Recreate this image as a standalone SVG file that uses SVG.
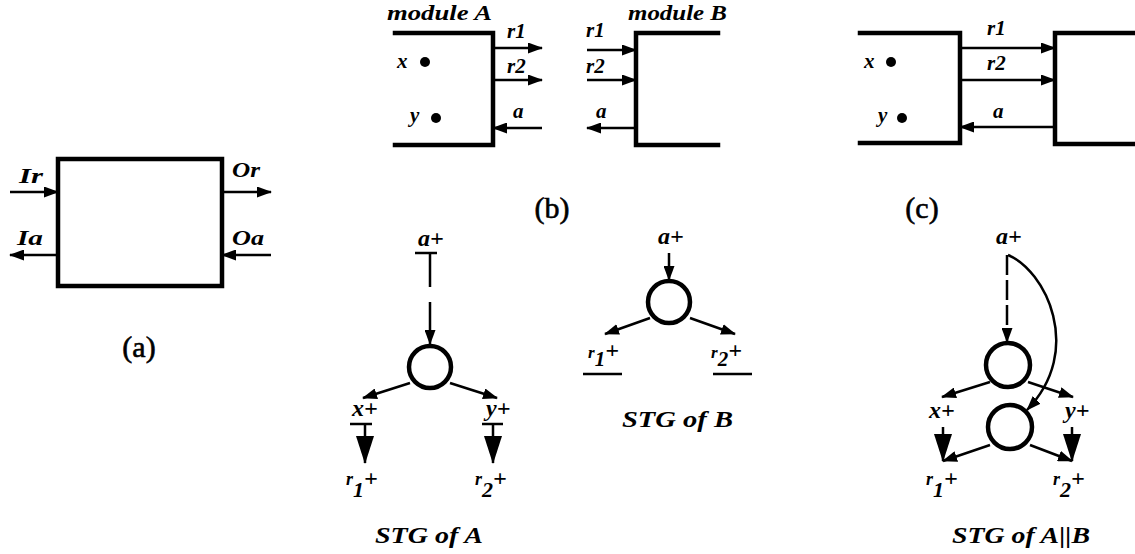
<svg xmlns="http://www.w3.org/2000/svg" width="1135" height="554" viewBox="0 0 1135 554">
<style>
.bx{fill:none;stroke:#000;stroke-width:4.5;stroke-linecap:square}
.ln{fill:none;stroke:#000;stroke-width:2.5}
.pl{fill:none;stroke:#000;stroke-width:4.5}
.t{font-family:"Liberation Serif",serif;font-weight:bold;font-style:italic;font-size:21px;fill:#000}
.ta{font-family:"Liberation Serif",serif;font-weight:bold;font-style:italic;font-size:24px;fill:#000}
.cap{font-family:"Liberation Serif",serif;font-weight:bold;font-style:italic;font-size:23px;fill:#000}
.lb{font-family:"Liberation Serif",serif;font-size:30px;fill:#000;stroke:#000;stroke-width:0.6;text-anchor:middle}
.dot{fill:#000}
</style>
<defs>
<marker id="ah" markerUnits="userSpaceOnUse" markerWidth="15" markerHeight="11" refX="14" refY="5.5" orient="auto"><path d="M0,0 L15,5.5 L0,11 z" fill="#000"/></marker>
<marker id="ahb" markerUnits="userSpaceOnUse" markerWidth="28" markerHeight="18" refX="27" refY="9" orient="auto"><path d="M0,0 L28,9 L0,18 z" fill="#000"/></marker>
</defs>

<g id="node-a">
<rect x="58" y="159" width="164" height="127" class="bx"/>
<text x="19" y="183" class="t" textLength="24" lengthAdjust="spacingAndGlyphs">Ir</text>
<text x="17" y="245" class="t" textLength="26" lengthAdjust="spacingAndGlyphs">Ia</text>
<text x="232" y="177" class="t" textLength="28" lengthAdjust="spacingAndGlyphs">Or</text>
<text x="232" y="245" class="t" textLength="32" lengthAdjust="spacingAndGlyphs">Oa</text>
<text x="139" y="357" class="lb">(a)</text>
</g>

<g id="node-moduleA">
<path d="M395,33 H493 V145 H395" class="bx"/>
<text x="387" y="20" class="t" textLength="105" lengthAdjust="spacingAndGlyphs">module A</text>
<text x="397" y="68" class="t">x</text>
<circle cx="425" cy="62" r="5" class="dot"/>
<text x="410" y="122" class="t">y</text>
<circle cx="436" cy="118" r="5" class="dot"/>
<text x="507" y="38" class="t">r1</text>
<text x="507" y="73" class="t">r2</text>
<text x="513" y="118" class="t">a</text>
</g>

<g id="node-moduleB">
<path d="M718,33 H636 V145 H718" class="bx"/>
<text x="628" y="20" class="t" textLength="99" lengthAdjust="spacingAndGlyphs">module B</text>
<text x="586" y="37" class="t">r1</text>
<text x="586" y="73" class="t">r2</text>
<text x="596" y="118" class="t">a</text>
<text x="552" y="218" class="lb">(b)</text>
</g>

<g id="node-c-left">
<path d="M860,33 H960 V143 H860" class="bx"/>
<text x="864" y="68" class="t">x</text>
<circle cx="891" cy="62" r="5" class="dot"/>
<text x="878" y="122" class="t">y</text>
<circle cx="902" cy="118" r="5" class="dot"/>
</g>
<g id="node-c-right">
<path d="M1137,33 H1055 V144 H1137" class="bx"/>
<text x="987" y="35" class="t">r1</text>
<text x="987" y="70" class="t">r2</text>
<text x="993" y="118" class="t">a</text>
<text x="922" y="218" class="lb">(c)</text>
</g>

<g id="node-stgA">
<text x="418" y="246" class="ta">a+</text>
<line x1="415" y1="253" x2="437" y2="253" class="ln"/>
<circle cx="430" cy="367" r="21" class="pl"/>
<text x="352" y="416" class="ta">x+</text>
<line x1="350" y1="424" x2="372" y2="424" class="ln"/>
<text x="486" y="416" class="ta">y+</text>
<line x1="482" y1="424" x2="503" y2="424" class="ln"/>
<text x="346" y="485" class="ta"><tspan font-size="18">r</tspan><tspan dy="12" font-size="22">1</tspan><tspan dy="-11">+</tspan></text>
<text x="475" y="485" class="ta"><tspan font-size="18">r</tspan><tspan dy="12" font-size="22">2</tspan><tspan dy="-11">+</tspan></text>
<text x="375" y="543" class="cap" textLength="108" lengthAdjust="spacingAndGlyphs">STG of A</text>
</g>

<g id="node-stgB">
<text x="658" y="244" class="ta">a+</text>
<circle cx="669" cy="302" r="21" class="pl"/>
<text x="588" y="358" class="ta"><tspan font-size="17">r</tspan><tspan dy="8" font-size="21">1</tspan><tspan dy="-8">+</tspan></text>
<line x1="583" y1="374" x2="622" y2="374" class="ln"/>
<text x="711" y="358" class="ta"><tspan font-size="17">r</tspan><tspan dy="8" font-size="21">2</tspan><tspan dy="-8">+</tspan></text>
<line x1="713" y1="374" x2="752" y2="374" class="ln"/>
<text x="622" y="427" class="cap" textLength="111" lengthAdjust="spacingAndGlyphs">STG of B</text>
</g>

<g id="node-stgAB">
<text x="996" y="244" class="ta">a+</text>
<circle cx="1008" cy="365" r="22" class="pl"/>
<circle cx="1010" cy="427" r="22" class="pl"/>
<text x="929" y="418" class="ta">x+</text>
<text x="1065" y="418" class="ta">y+</text>
<text x="926" y="485" class="ta"><tspan font-size="18">r</tspan><tspan dy="12" font-size="22">1</tspan><tspan dy="-11">+</tspan></text>
<text x="1053" y="485" class="ta"><tspan font-size="18">r</tspan><tspan dy="12" font-size="22">2</tspan><tspan dy="-11">+</tspan></text>
<text x="952" y="543" class="cap" textLength="138" lengthAdjust="spacingAndGlyphs">STG of A||B</text>
</g>

<g id="connectors">
<line x1="10" y1="192" x2="58" y2="192" class="ln" marker-end="url(#ah)"/>
<line x1="58" y1="255" x2="10" y2="255" class="ln" marker-end="url(#ah)"/>
<line x1="222" y1="192" x2="271" y2="192" class="ln" marker-end="url(#ah)"/>
<line x1="271" y1="255" x2="222" y2="255" class="ln" marker-end="url(#ah)"/>

<line x1="493" y1="48" x2="542" y2="48" class="ln" marker-end="url(#ah)"/>
<line x1="493" y1="80" x2="542" y2="80" class="ln" marker-end="url(#ah)"/>
<line x1="542" y1="128" x2="493" y2="128" class="ln" marker-end="url(#ah)"/>
<line x1="587" y1="50" x2="636" y2="50" class="ln" marker-end="url(#ah)"/>
<line x1="587" y1="80" x2="636" y2="80" class="ln" marker-end="url(#ah)"/>
<line x1="636" y1="128" x2="587" y2="128" class="ln" marker-end="url(#ah)"/>

<line x1="960" y1="48" x2="1055" y2="48" class="ln" marker-end="url(#ah)"/>
<line x1="960" y1="80" x2="1055" y2="80" class="ln" marker-end="url(#ah)"/>
<line x1="1055" y1="127" x2="960" y2="127" class="ln" marker-end="url(#ah)"/>

<line x1="430" y1="253" x2="430" y2="344" class="ln" stroke-dasharray="34 15 80" marker-end="url(#ah)"/>
<line x1="410" y1="383" x2="363" y2="398" class="ln" marker-end="url(#ah)"/>
<line x1="450" y1="383" x2="497" y2="398" class="ln" marker-end="url(#ah)"/>
<line x1="365" y1="424" x2="365" y2="463" class="ln" marker-end="url(#ahb)"/>
<line x1="493" y1="424" x2="493" y2="463" class="ln" marker-end="url(#ahb)"/>

<line x1="669" y1="253" x2="669" y2="280" class="ln" marker-end="url(#ah)"/>
<line x1="650" y1="318" x2="605" y2="334" class="ln" marker-end="url(#ah)"/>
<line x1="690" y1="318" x2="735" y2="334" class="ln" marker-end="url(#ah)"/>

<line x1="1007" y1="255" x2="1007" y2="342" class="ln" stroke-dasharray="20 5" marker-end="url(#ah)"/>
<path d="M1008,255 C1045,270 1085,350 1027,410" class="ln" marker-end="url(#ah)"/>
<line x1="990" y1="382" x2="942" y2="397" class="ln" marker-end="url(#ah)"/>
<line x1="1028" y1="382" x2="1073" y2="397" class="ln" marker-end="url(#ah)"/>
<line x1="943" y1="427" x2="943" y2="461" class="ln" marker-end="url(#ahb)"/>
<line x1="1072" y1="427" x2="1072" y2="461" class="ln" marker-end="url(#ahb)"/>
<line x1="990" y1="445" x2="943" y2="461" class="ln" marker-end="url(#ah)"/>
<line x1="1030" y1="445" x2="1072" y2="461" class="ln" marker-end="url(#ah)"/>
</g>
</svg>
